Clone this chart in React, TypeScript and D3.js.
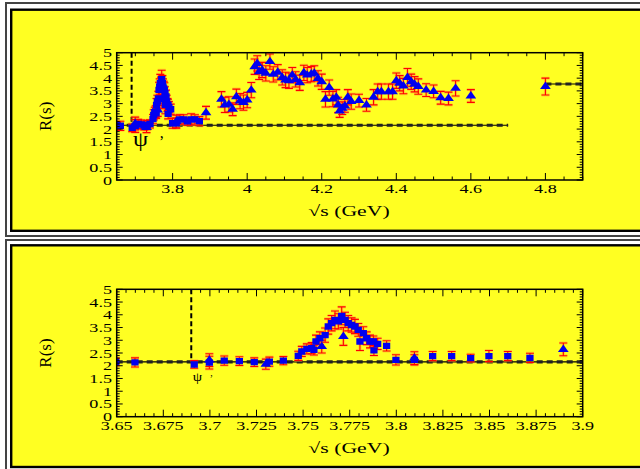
import React, { useEffect, useRef } from 'react';
import * as d3 from 'd3';

// scan points (blue squares), sqrt(s) in GeV
const squareEnergy = [
  3.6495, 3.6598, 3.6916, 3.6997, 3.7077, 3.7158, 3.7238, 3.7319, 3.7394, 3.7474,
  3.7493, 3.752, 3.7546, 3.7558, 3.7569, 3.759, 3.7618, 3.7635, 3.7653, 3.7671,
  3.7689, 3.7707, 3.7725, 3.7742, 3.776, 3.7778, 3.7796, 3.7805, 3.7823, 3.7841,
  3.7859, 3.7877, 3.788, 3.79, 3.7948, 3.7998, 3.8097, 3.8195, 3.8297, 3.8399,
  3.8497, 3.8598, 3.8717,
];
const squareR = [
  2.15, 2.13, 2.05, 2.12, 2.2, 2.18, 2.14, 2.16, 2.2, 2.39,
  2.56, 2.66, 2.69, 2.62, 2.95, 3.08, 3.2, 3.54, 3.67, 3.8,
  3.74, 3.96, 3.8, 3.67, 3.6, 3.54, 3.41, 2.95, 3.28, 3.08,
  2.95, 2.95, 2.6, 2.86, 2.78, 2.23, 2.23, 2.38, 2.38, 2.3,
  2.38, 2.38, 2.31,
];
const squareErr = [
  0.15, 0.18, 0.15, 0.25, 0.18, 0.17, 0.17, 0.18, 0.16, 0.18,
  0.2, 0.2, 0.22, 0.2, 0.25, 0.25, 0.28, 0.3, 0.3, 0.35,
  0.3, 0.35, 0.3, 0.3, 0.28, 0.28, 0.25, 0.35, 0.25, 0.25,
  0.25, 0.22, 0.2, 0.22, 0.2, 0.2, 0.2, 0.18, 0.18, 0.15,
  0.22, 0.18, 0.18,
];

// fine scan points (blue triangles)
const triangleEnergy = [
  3.6997, 3.73, 3.76, 3.7716, 3.8097, 3.8896,
  3.931, 3.94, 3.951, 3.961, 3.971, 3.981, 3.99, 4.0, 4.011, 4.02,
  4.027, 4.032, 4.04, 4.05, 4.061, 4.07, 4.082, 4.094, 4.103, 4.112,
  4.121, 4.13, 4.141, 4.152, 4.161, 4.172, 4.18, 4.19, 4.2, 4.21,
  4.22, 4.23, 4.239, 4.244, 4.248, 4.255, 4.262, 4.27, 4.279, 4.3,
  4.32, 4.339, 4.35, 4.36, 4.379, 4.39, 4.4, 4.409, 4.419, 4.43,
  4.44, 4.449, 4.459, 4.48, 4.5, 4.519, 4.54, 4.559, 4.6, 4.8,
];
const triangleR = [
  2.22, 2.06, 2.75, 3.15, 2.3, 2.64,
  3.17, 2.95, 2.97, 2.78, 3.27, 3.1, 3.04, 3.14, 3.53, 4.45,
  4.58, 4.25, 4.32, 4.19, 4.65, 4.15, 4.23, 4.03, 3.93, 3.9,
  4.12, 3.95, 3.82, 4.21, 4.12, 4.16, 4.19, 3.99, 3.86, 3.17,
  3.63, 3.18, 3.25, 2.95, 2.71, 2.82, 2.91, 3.25, 3.08, 3.12,
  2.95, 3.25, 3.47, 3.47, 3.47, 3.47, 3.9, 3.8, 3.69, 4.03,
  3.86, 3.76, 3.67, 3.53, 3.48, 3.23, 3.2, 3.6, 3.3, 3.67,
];
const triangleErr = [
  0.25, 0.2, 0.25, 0.35, 0.25, 0.25,
  0.3, 0.3, 0.3, 0.25, 0.3, 0.3, 0.3, 0.3, 0.3, 0.3,
  0.3, 0.3, 0.3, 0.3, 0.3, 0.3, 0.3, 0.3, 0.3, 0.3,
  0.3, 0.3, 0.3, 0.3, 0.3, 0.3, 0.3, 0.3, 0.3, 0.3,
  0.3, 0.3, 0.3, 0.3, 0.25, 0.25, 0.25, 0.3, 0.3, 0.25,
  0.25, 0.3, 0.3, 0.3, 0.3, 0.3, 0.3, 0.3, 0.3, 0.35,
  0.3, 0.3, 0.3, 0.25, 0.25, 0.25, 0.25, 0.3, 0.25, 0.33,
];

const yTickLabels = ['0', '0.5', '1', '1.5', '2', '2.5', '3', '3.5', '4', '4.5', '5'];
const topTickLabels = ['3.8', '4', '4.2', '4.4', '4.6', '4.8'];
const bottomTickLabels = ['3.65', '3.675', '3.7', '3.725', '3.75', '3.775', '3.8', '3.825', '3.85', '3.875', '3.9'];

const psiPrime = 3.69;
const continuumR = 2.15;
const highR = 3.77;

const YELLOW = '#ffff22';
const SERIF = "'Liberation Serif', 'DejaVu Serif', serif";
const STRETCH = 1.45;

interface PanelCfg {
  id: string;
  top: number;
  bottom: number;
  domain: [number, number];
  labels: string[];
  minorStep: number;
  contEnd: number;
  psiFont: number;
  psiDy: number;
  primeDx: number;
}

function drawPanel(root: d3.Selection<SVGSVGElement, unknown, null, undefined>, cfg: PanelCfg) {
  const left = 116.7;
  const right = 582.7;
  const x = d3.scaleLinear().domain(cfg.domain).range([left, right]);
  const y = d3.scaleLinear().domain([0, 5]).range([cfg.bottom, cfg.top]);
  const g = root.append('g');

  g.append('clipPath').attr('id', cfg.id)
    .append('rect')
    .attr('x', left).attr('y', cfg.top)
    .attr('width', right - left).attr('height', cfg.bottom - cfg.top);
  const plot = g.append('g').attr('clip-path', `url(#${cfg.id})`);

  // reference lines
  const refLine = (e0: number, e1: number, r: number) => {
    plot.append('line')
      .attr('x1', x(e0)).attr('x2', x(e1)).attr('y1', y(r)).attr('y2', y(r))
      .attr('stroke', '#000').attr('stroke-width', 1.2);
    plot.append('line')
      .attr('x1', x(e0)).attr('x2', x(e1)).attr('y1', y(r)).attr('y2', y(r))
      .attr('stroke', '#222').attr('stroke-width', 3.2).attr('stroke-dasharray', '6,4');
  };
  refLine(cfg.domain[0], cfg.contEnd, continuumR);
  refLine(4.8, 4.9, highR);

  plot.append('line')
    .attr('x1', x(psiPrime)).attr('x2', x(psiPrime))
    .attr('y1', y(5)).attr('y2', y(continuumR))
    .attr('stroke', '#000').attr('stroke-width', 2).attr('stroke-dasharray', '5,3');

  const squares = squareEnergy.map((e, i) => ({ e, r: squareR[i], err: squareErr[i] }));
  const triangles = triangleEnergy.map((e, i) => ({ e, r: triangleR[i], err: triangleErr[i] }));
  const all = [...squares, ...triangles];

  // error bars: soft orange halo under a red bar
  const errPath = (d: { e: number; r: number; err: number }) => {
    const cx = x(d.e), lo = y(d.r - d.err), hi = y(d.r + d.err);
    return `M${cx},${lo}V${hi}M${cx - 4},${lo}H${cx + 4}M${cx - 4},${hi}H${cx + 4}`;
  };
  plot.append('g').selectAll('path').data(all).enter().append('path')
    .attr('d', errPath).attr('fill', 'none')
    .attr('stroke', '#ff9933').attr('stroke-opacity', 0.45).attr('stroke-width', 3);
  plot.append('g').selectAll('path').data(all).enter().append('path')
    .attr('d', errPath).attr('fill', 'none')
    .attr('stroke', '#ff0000').attr('stroke-width', 1.1);

  const sq = d3.symbol().type(d3.symbolSquare).size(40)();
  const tri = d3.symbol().type(d3.symbolTriangle).size(32)();
  plot.append('g').selectAll('path').data(squares).enter().append('path')
    .attr('d', sq)
    .attr('transform', d => `translate(${x(d.e)},${y(d.r)}) scale(1.15,1)`)
    .attr('fill', '#0000f0');
  plot.append('g').selectAll('path').data(triangles).enter().append('path')
    .attr('d', tri)
    .attr('transform', d => `translate(${x(d.e)},${y(d.r)}) scale(1.25,1)`)
    .attr('fill', '#0000f0');

  // frame
  g.append('rect')
    .attr('x', left).attr('y', cfg.top)
    .attr('width', right - left).attr('height', cfg.bottom - cfg.top)
    .attr('fill', 'none').attr('stroke', '#000').attr('stroke-width', 1.5);

  // ticks
  const ticks = g.append('g').attr('stroke', '#000').attr('stroke-width', 1);
  d3.range(0, 5.0001, 0.1).forEach(v => {
    const major = Math.abs(v * 2 - Math.round(v * 2)) < 1e-6;
    const len = major ? 6 : 3;
    ticks.append('line').attr('x1', left).attr('x2', left + len).attr('y1', y(v)).attr('y2', y(v));
    ticks.append('line').attr('x1', right).attr('x2', right - len).attr('y1', y(v)).attr('y2', y(v));
  });
  const majors = cfg.labels.map(Number);
  d3.range(cfg.domain[0], cfg.domain[1] + 1e-9, cfg.minorStep).forEach(v => {
    const major = majors.some(m => Math.abs(m - v) < 1e-6);
    const len = major ? 7 : 3.5;
    ticks.append('line').attr('x1', x(v)).attr('x2', x(v)).attr('y1', cfg.bottom).attr('y2', cfg.bottom - len);
    ticks.append('line').attr('x1', x(v)).attr('x2', x(v)).attr('y1', cfg.top).attr('y2', cfg.top + len);
  });

  // tick labels
  const txt = g.append('g').attr('font-family', SERIF).attr('fill', '#000');
  yTickLabels.forEach(t => {
    txt.append('text')
      .attr('transform', `translate(112,${y(+t) + 4.5}) scale(${STRETCH},1)`)
      .attr('text-anchor', 'end').attr('font-size', 12.5).text(t);
  });
  cfg.labels.forEach(t => {
    txt.append('text')
      .attr('transform', `translate(${x(+t)},${cfg.bottom + 13}) scale(${STRETCH},1)`)
      .attr('text-anchor', 'middle').attr('font-size', 12.5).text(t);
  });

  // axis titles
  txt.append('text')
    .attr('transform', `translate(349,${cfg.bottom + 36}) scale(${STRETCH},1)`)
    .attr('text-anchor', 'middle').attr('font-size', 15).text('√s (GeV)');
  txt.append('text')
    .attr('transform', `translate(45,${(cfg.top + cfg.bottom) / 2}) rotate(-90)`)
    .attr('text-anchor', 'middle').attr('dy', '0.35em').attr('font-size', 17).text('R(s)');

  // psi' label
  const px = x(psiPrime) + 1.5;
  const py = y(continuumR) + cfg.psiDy;
  txt.append('text')
    .attr('transform', `translate(${px},${py}) scale(1.15,1)`)
    .attr('font-size', cfg.psiFont).text('ψ');
  txt.append('text')
    .attr('transform', `translate(${px + cfg.primeDx},${py + cfg.psiFont * 0.05})`)
    .attr('font-size', cfg.psiFont * 0.75).text('’');
}

export default function App() {
  const svgRef = useRef<SVGSVGElement>(null);

  useEffect(() => {
    if (!svgRef.current) return;
    const svg = d3.select(svgRef.current);
    svg.selectAll('*').remove();

    // two framed yellow panels
    const frame = (outerTop: number, innerTop: number, innerBottom: number, outerBottom: number) => {
      svg.append('rect')
        .attr('x', 6).attr('y', outerTop).attr('width', 700).attr('height', outerBottom - outerTop)
        .attr('fill', '#fff').attr('stroke', '#444').attr('stroke-width', 2);
      svg.append('rect')
        .attr('x', 11.2).attr('y', innerTop).attr('width', 700).attr('height', innerBottom - innerTop)
        .attr('fill', YELLOW).attr('stroke', '#000').attr('stroke-width', 2.4);
    };
    frame(3, 9.7, 230.8, 236);
    frame(240, 245.3, 467, 474);

    drawPanel(svg as any, {
      id: 'clip-top', top: 52.7, bottom: 180, domain: [3.65, 4.9],
      labels: topTickLabels, minorStep: 0.05, contEnd: 4.7,
      psiFont: 21, psiDy: 21, primeDx: 26,
    });
    drawPanel(svg as any, {
      id: 'clip-bottom', top: 289.3, bottom: 416.7, domain: [3.65, 3.9],
      labels: bottomTickLabels, minorStep: 0.005, contEnd: 3.9,
      psiFont: 13, psiDy: 19, primeDx: 17,
    });
  }, []);

  return (
    <svg
      ref={svgRef}
      width={640}
      height={469}
      style={{ position: 'absolute', left: 0, top: 0, background: '#fff' }}
    />
  );
}
